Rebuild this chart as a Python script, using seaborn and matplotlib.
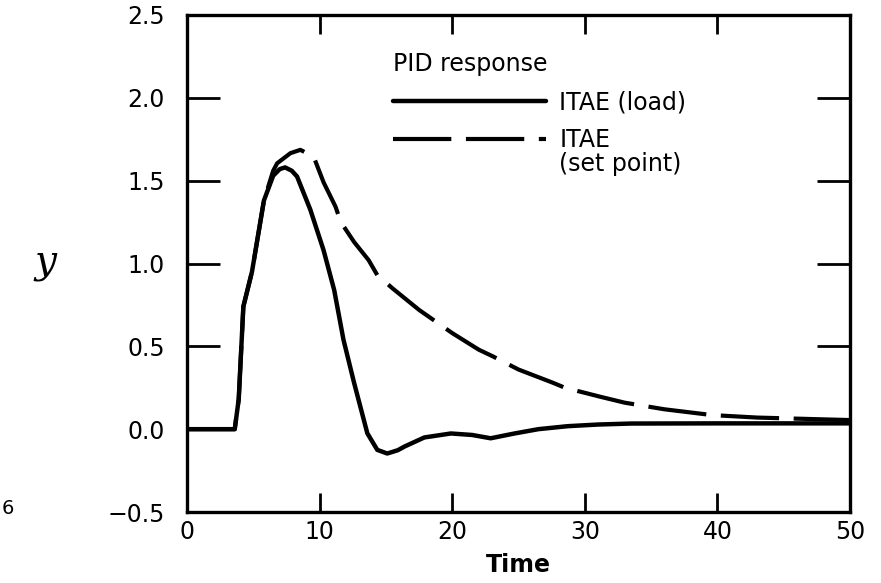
import matplotlib
matplotlib.use("Agg")
import matplotlib.pyplot as plt
import seaborn as sns
import pandas as pd

# ---- data ----
t_load = [0, 3.6, 3.9, 4.25, 4.9, 5.8, 6.5, 7.0, 7.4, 7.9, 8.3, 9.3, 10.3, 11.1, 11.8,
          12.6, 13.6, 14.35, 15.1, 15.9, 16.4, 17.9, 19.9, 21.5, 22.9, 24.7, 26.5,
          28.7, 31.0, 33.5, 40.0, 50.0]
y_load = [0, 0, 0.18, 0.74, 0.95, 1.38, 1.53, 1.57, 1.58, 1.56, 1.525, 1.325, 1.08,
          0.84, 0.54, 0.28, -0.025, -0.125, -0.147, -0.127, -0.105, -0.05, -0.026,
          -0.035, -0.055, -0.026, 0.0, 0.018, 0.028, 0.034, 0.035, 0.035]

t_sp = [0, 3.6, 3.9, 4.25, 4.9, 5.8, 6.5, 6.8, 7.8, 8.55, 9.55, 10.3, 11.2, 11.6,
        12.6, 13.7, 14.35, 15.5, 17.5, 20.0, 22.0, 23.05, 25.0, 27.6, 28.5, 31.2,
        33.0, 36.0, 39.6, 43.0, 47.6, 50.0]
y_sp = [0, 0, 0.18, 0.74, 0.95, 1.38, 1.56, 1.605, 1.666, 1.686, 1.645, 1.49, 1.343,
        1.25, 1.13, 1.02, 0.93, 0.85, 0.72, 0.58, 0.48, 0.44, 0.36, 0.28, 0.25, 0.195,
        0.16, 0.12, 0.085, 0.07, 0.06, 0.055]

x_ticks = [0, 10, 20, 30, 40, 50]
y_ticks = [-0.5, 0.0, 0.5, 1.0, 1.5, 2.0, 2.5]
legend_title = "PID response"
label_load = "ITAE (load)"
label_sp = "ITAE"
label_sp2 = "(set point)"

df_load = pd.DataFrame({"Time": t_load, "y": y_load})
df_sp = pd.DataFrame({"Time": t_sp, "y": y_sp})

sns.set_theme(style="white")
plt.rcParams["font.family"] = ["DejaVu Sans"]
plt.rcParams["text.color"] = "black"
plt.rcParams["axes.labelcolor"] = "black"
plt.rcParams["xtick.color"] = "black"
plt.rcParams["ytick.color"] = "black"

fig = plt.figure(figsize=(8.81, 5.83), dpi=100)
ax = fig.add_axes([187 / 881, 1 - 512 / 583, (850 - 187) / 881, (512 - 15) / 583])

sns.lineplot(data=df_load, x="Time", y="y", ax=ax, color="black", linewidth=3.2,
             estimator=None, sort=False, label=label_load)
sns.lineplot(data=df_sp, x="Time", y="y", ax=ax, color="black", linewidth=3.0,
             estimator=None, sort=False, label=label_sp,
             linestyle=(0, (14, 3.5)))

ax.set_xlim(0, 50)
ax.set_ylim(-0.5, 2.5)
ax.set_xticks(x_ticks)
ax.set_yticks(y_ticks)

for s in ax.spines.values():
    s.set_linewidth(2.4)
    s.set_color("black")

ax.tick_params(axis="y", direction="in", length=24, width=2.0, left=True, right=True,
               labelsize=17, pad=16, colors="black")
ax.tick_params(axis="x", direction="in", length=14, width=2.0, bottom=True, top=True,
               labelsize=17, pad=6, colors="black")
# no right-hand tick at 0.0
ax.yaxis.get_major_ticks()[1].tick2line.set_visible(False)

ax.set_xlabel("Time", fontsize=17, fontweight="bold", labelpad=6, color="black")
ax.set_ylabel("")
fig.text(45 / 881, 1 - 262 / 583, "y", fontsize=28, family="DejaVu Serif",
         style="italic", ha="center", va="center", color="black")
fig.text(2 / 881, 1 - 508 / 583, "6", fontsize=14, ha="left", va="center", color="black")

leg = ax.legend(loc="upper left", bbox_to_anchor=((393 - 187) / 663, (512 - 52) / 497),
                frameon=False, title=legend_title, fontsize=17, title_fontsize=17,
                handlelength=6.5, handletextpad=0.55, labelspacing=0.6,
                borderpad=0, borderaxespad=0, alignment="left")
for txt in leg.get_texts():
    txt.set_color("black")
leg.get_title().set_color("black")
ax.annotate(label_sp2, xy=(0, 0), xycoords=leg.get_texts()[1], xytext=(0, 0),
            textcoords="offset points", ha="left", va="top", fontsize=17,
            color="black", zorder=10)

fig.savefig("out.png", dpi=100)
